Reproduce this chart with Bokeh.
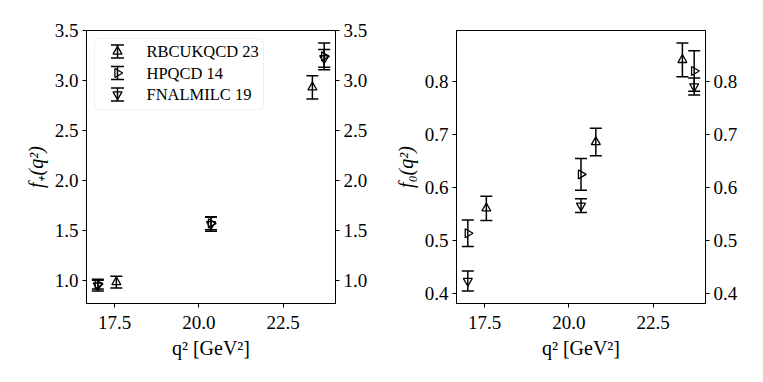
import math
from bokeh.plotting import figure
from bokeh.layouts import row
from bokeh.models import (Range1d, LinearAxis, FixedTicker, PrintfTickFormatter,
                          ColumnDataSource, BoxAnnotation)
from bokeh.core.properties import value, field
from bokeh.embed import file_html
from bokeh.resources import INLINE

# ---------------- data ----------------
series = ["RBCUKQCD 23", "HPQCD 14", "FNALMILC 19"]

rbc_q2_fp = [17.55, 23.37]
rbc_fp = [0.98, 2.934]
rbc_fp_err = [0.06, 0.116]
rbc_q2_f0 = [17.55, 20.8, 23.37]
rbc_f0 = [0.560, 0.685, 0.840]
rbc_f0_err = [0.023, 0.026, 0.032]

hpqcd_q2 = [17.0, 20.36, 23.72]
hpqcd_fp = [0.96, 1.57, 3.245]
hpqcd_fp_err = [0.05, 0.065, 0.135]
hpqcd_f0 = [0.513, 0.624, 0.819]
hpqcd_f0_err = [0.025, 0.030, 0.038]

fnal_q2 = [17.0, 20.36, 23.72]
fnal_fp = [0.945, 1.56, 3.225]
fnal_fp_err = [0.055, 0.07, 0.09]
fnal_f0 = [0.423, 0.565, 0.790]
fnal_f0_err = [0.019, 0.013, 0.016]

x_ticks = [17.5, 20.0, 22.5]
fp_ticks = [1.0, 1.5, 2.0, 2.5, 3.0, 3.5]
f0_ticks = [0.4, 0.5, 0.6, 0.7, 0.8]

# ---------------- styles ----------------
FONT = "Liberation Serif"
markers = ["triangle", "triangle", "inverted_triangle"]
angles = [0.0, -math.pi / 2, 0.0]
FW, FH = 249, 273


def padded(lo, hi, frac=0.05):
    d = hi - lo
    return lo - frac * d, hi + frac * d


def add_series(p, x, y, err, marker, angle):
    lo = [a - e for a, e in zip(y, err)]
    hi = [a + e for a, e in zip(y, err)]
    src = ColumnDataSource(dict(x=x, y=y, lo=lo, hi=hi))
    p.segment(x0="x", y0="lo", x1="x", y1="hi", source=src,
              line_color="black", line_width=1.5)
    p.scatter(x="x", y="lo", marker="dash", size=12, line_width=1.5,
              line_color="black", source=src)
    p.scatter(x="x", y="hi", marker="dash", size=12, line_width=1.5,
              line_color="black", source=src)
    p.scatter(x="x", y="y", marker=marker, angle=angle, size=9,
              fill_alpha=0, line_color="black", line_width=1.3, source=src)


def make_fig(xs_all, lo_all, hi_all, yticks, ylabel, ml, mr):
    x0, x1 = padded(min(xs_all), max(xs_all))
    y0, y1 = padded(min(lo_all), max(hi_all))
    p = figure(frame_width=FW, frame_height=FH, output_backend="svg",
               toolbar_location=None, x_range=Range1d(x0, x1),
               y_range=Range1d(y0, y1),
               min_border_left=ml, min_border_right=mr,
               min_border_top=30, min_border_bottom=66)
    p.grid.visible = False
    p.outline_line_color = "black"
    p.outline_line_width = 1
    p.background_fill_color = "white"
    p.border_fill_color = "white"
    p.xaxis.ticker = FixedTicker(ticks=x_ticks)
    p.xaxis.formatter = PrintfTickFormatter(format="%.1f")
    p.yaxis.ticker = FixedTicker(ticks=yticks)
    p.yaxis.formatter = PrintfTickFormatter(format="%.1f")
    yr = LinearAxis(ticker=FixedTicker(ticks=yticks),
                    formatter=PrintfTickFormatter(format="%.1f"))
    p.add_layout(yr, "right")
    for ax in p.axis:
        ax.axis_line_color = "black"
        ax.major_tick_line_color = "black"
        ax.major_tick_out = 4
        ax.major_tick_in = 0
        ax.minor_tick_out = 0
        ax.minor_tick_in = 0
        ax.major_label_text_font = FONT
        ax.major_label_text_font_size = "19px"
        ax.major_label_text_color = "black"
        ax.major_label_standoff = 4
        ax.axis_label_text_font = FONT
        ax.axis_label_text_font_size = "20px"
        ax.axis_label_text_color = "black"
    p.xaxis.major_label_standoff = 8
    p.xaxis.axis_label = "q² [GeV²]"
    p.xaxis.axis_label_text_font_style = "normal"
    p.xaxis.axis_label_standoff = 5
    p.yaxis[0].axis_label = ylabel
    p.yaxis[0].axis_label_text_font_style = "italic"
    p.yaxis[0].axis_label_standoff = 5
    return p


# ---------------- left panel: f+ ----------------
xs_l = rbc_q2_fp + hpqcd_q2 + fnal_q2
lo_l = ([a - e for a, e in zip(rbc_fp, rbc_fp_err)] +
        [a - e for a, e in zip(hpqcd_fp, hpqcd_fp_err)] +
        [a - e for a, e in zip(fnal_fp, fnal_fp_err)])
hi_l = ([a + e for a, e in zip(rbc_fp, rbc_fp_err)] +
        [a + e for a, e in zip(hpqcd_fp, hpqcd_fp_err)] +
        [a + e for a, e in zip(fnal_fp, fnal_fp_err)])
p1 = make_fig(xs_l, lo_l, hi_l, fp_ticks, "f₊(q²)", 86, 50)
add_series(p1, rbc_q2_fp, rbc_fp, rbc_fp_err, markers[0], angles[0])
add_series(p1, hpqcd_q2, hpqcd_fp, hpqcd_fp_err, markers[1], angles[1])
add_series(p1, fnal_q2, fnal_fp, fnal_fp_err, markers[2], angles[2])

# legend (drawn in frame-pixel coordinates)
p1.extra_x_ranges = {"lgx": Range1d(0, FW)}
p1.extra_y_ranges = {"lgy": Range1d(0, FH)}
box_kw = dict(left=8, right=177, top=FH - 8, bottom=FH - 79,
              x_range_name="lgx", y_range_name="lgy",
              fill_color="white", fill_alpha=0.8,
              line_color="#cccccc", line_width=1, level="underlay")
try:
    box = BoxAnnotation(border_radius=4, **box_kw)
except Exception:
    box = BoxAnnotation(**box_kw)
p1.add_layout(box)

row_y = [FH - 21 - i * 21.5 for i in range(len(series))]
gx = [31] * len(series)
lsrc = ColumnDataSource(dict(
    x=gx, y=row_y, lo=[v - 6.5 for v in row_y], hi=[v + 6.5 for v in row_y],
    marker=markers, angle=angles, label=series, tx=[60] * len(series)))
p1.segment(x0="x", y0="lo", x1="x", y1="hi", source=lsrc, line_color="black",
           line_width=1.5, x_range_name="lgx", y_range_name="lgy")
p1.scatter(x="x", y="lo", marker="dash", size=13, line_width=1.5,
           line_color="black", source=lsrc, x_range_name="lgx", y_range_name="lgy")
p1.scatter(x="x", y="hi", marker="dash", size=13, line_width=1.5,
           line_color="black", source=lsrc, x_range_name="lgx", y_range_name="lgy")
p1.scatter(x="x", y="y", marker=field("marker"), angle=field("angle"), size=9,
           fill_alpha=0, line_color="black", line_width=1.3, source=lsrc,
           x_range_name="lgx", y_range_name="lgy")
p1.text(x="tx", y="y", text="label", source=lsrc, text_baseline="middle",
        text_align="left", text_font=value(FONT), text_font_size="16.5px",
        text_color="black", x_range_name="lgx", y_range_name="lgy")

# ---------------- right panel: f0 ----------------
xs_r = rbc_q2_f0 + hpqcd_q2 + fnal_q2
lo_r = ([a - e for a, e in zip(rbc_f0, rbc_f0_err)] +
        [a - e for a, e in zip(hpqcd_f0, hpqcd_f0_err)] +
        [a - e for a, e in zip(fnal_f0, fnal_f0_err)])
hi_r = ([a + e for a, e in zip(rbc_f0, rbc_f0_err)] +
        [a + e for a, e in zip(hpqcd_f0, hpqcd_f0_err)] +
        [a + e for a, e in zip(fnal_f0, fnal_f0_err)])
p2 = make_fig(xs_r, lo_r, hi_r, f0_ticks, "f₀(q²)", 71, 48)
add_series(p2, rbc_q2_f0, rbc_f0, rbc_f0_err, markers[0], angles[0])
add_series(p2, hpqcd_q2, hpqcd_f0, hpqcd_f0_err, markers[1], angles[1])
add_series(p2, fnal_q2, fnal_f0, fnal_f0_err, markers[2], angles[2])

layout = row(p1, p2)
open("out.html", "w").write(file_html(layout, INLINE))
